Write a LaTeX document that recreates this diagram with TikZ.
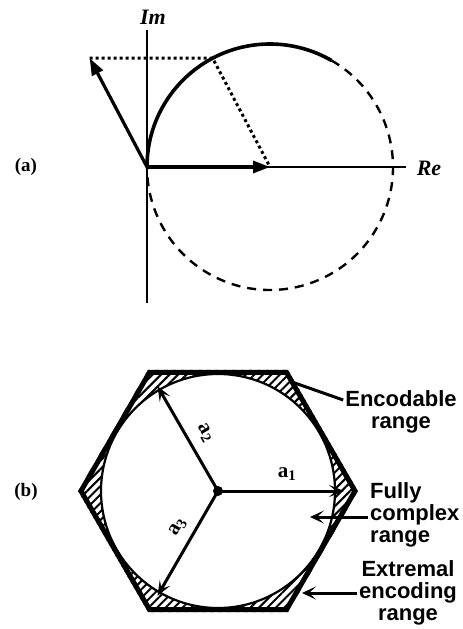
\documentclass[tikz,border=0pt]{standalone}
\usepackage{fontspec}
\setmainfont{Liberation Serif}
\newfontfamily\sansfont{Liberation Sans}
\usetikzlibrary{arrows.meta, calc, shapes.geometric, patterns.meta, backgrounds}

\begin{document}
\begin{tikzpicture}[
    x=1pt, y=1pt,
    every node/.style = {inner sep=2pt},
    axisline/.style = {line width=2pt},
    vecarrow/.style = {-{Triangle[length=17pt,width=12pt]}, line width=3.2pt},
    trace/.style = {line width=3.6pt},
    hidden/.style = {line width=2.4pt, dash pattern=on 9pt off 7pt},
    guide/.style = {line width=3pt, dash pattern=on 3pt off 3pt},
    hexbox/.style = {
        regular polygon, regular polygon sides=6,
        draw, line width=5pt, line join=miter,
        minimum size=274pt, inner sep=0pt
    },
    hubdot/.style = {circle, fill, minimum size=10pt, inner sep=0pt},
    spoke/.style = {-{Stealth[length=15pt,width=12pt,inset=7pt]}, line width=3pt},
    pointer/.style = {-{Stealth[length=14pt,width=13pt,inset=7pt]}, line width=3pt},
    leader/.style = {line width=3pt},
    partlabel/.style = {font=\fontsize{19}{20}\selectfont\bfseries},
    axislabel/.style = {font=\fontsize{22}{22}\selectfont\bfseries\itshape},
    veclabel/.style = {font=\fontsize{21}{21}\selectfont\bfseries},
    rangelabel/.style = {font=\sansfont\fontsize{22}{22}\selectfont\bfseries},
]
\useasboundingbox (0,0) rectangle (463,-629);

% (a): complex plane
\coordinate (O)   at (147,-167);
\coordinate (C)   at (270,-167);
\coordinate (imtop) at (147,-30);
\coordinate (imbot) at (147,-303);
\coordinate (reend) at (406,-167);
\coordinate (P)   at ($(C)+(117.8:123pt)$);
\coordinate (Q)   at ($(O)+(P)-(C)$);

\node[partlabel] (parta) at (26,-167) {(a)};
\node[axislabel] (im)    at (153,-17)  {Im};
\node[axislabel] (re)    at (429,-168) {Re};

\draw[axisline] (imtop) -- (imbot);
\draw[axisline] (O) -- (reend);

% circle of the phasor sum
\draw[hidden] ($(C)+(60:123pt)$) arc[start angle=60, end angle=-180, radius=123pt];
\draw[trace]  (O) arc[start angle=180, end angle=60, radius=123pt];

% construction lines
\draw[guide] (Q) -- (P) -- (C);

% vectors
\draw[vecarrow] (O) -- (C);
\draw[vecarrow] (O) -- (Q);

% (b): hexagon of three phasors
\node[partlabel] (partb) at (26,-492) {(b)};
\node[hexbox] (hex) at (218,-491) {};

\begin{scope}[on background layer]
  \fill[pattern={Lines[angle=45, distance=6pt, line width=2pt]}, even odd rule]
      (hex.corner 1) -- (hex.corner 2) -- (hex.corner 3) -- (hex.corner 4)
      -- (hex.corner 5) -- (hex.corner 6) -- cycle
      (hex.center) circle[radius=117pt];
\end{scope}
\draw[line width=2.2pt] (hex.center) circle[radius=117pt];

\node[hubdot] (hub) at (hex.center) {};
\coordinate (tip1) at ($(hub.center)+(0:126pt)$);
\coordinate (tip2) at ($(hub.center)+(120:121pt)$);
\coordinate (tip3) at ($(hub.center)+(240:121pt)$);

\draw[spoke] (hub.center) -- (tip1);
\draw[spoke] (hub.center) -- (tip2);
\draw[spoke] (hub.center) -- (tip3);

\node[veclabel] (a1) at (287,-474) {a\textsubscript{1}};
\node[veclabel, rotate=-60] (a2) at (205,-433) {a\textsubscript{2}};
\node[veclabel, rotate=60]  (a3) at (178,-527) {a\textsubscript{3}};

% range labels
\node[rangelabel, align=center] (encodable) at (401,-412) {Encodable\\range};
\node[rangelabel, align=left, anchor=west] (fullycomplex) at (368,-515) {Fully\\complex\\range};
\node[rangelabel, align=center] (extremal) at (408,-593) {Extremal\\encoding\\range};

\coordinate (enctip) at (292,-382);
\coordinate (fctip)  at (310,-517);
\coordinate (extip)  at (302,-593);

\draw[leader]  ([yshift=12pt]encodable.west) -- (enctip);
\draw[pointer] ([yshift=-2pt]fullycomplex.west) -- (fctip);
\draw[pointer] (extremal.west) -- (extip);

\end{tikzpicture}
\end{document}
